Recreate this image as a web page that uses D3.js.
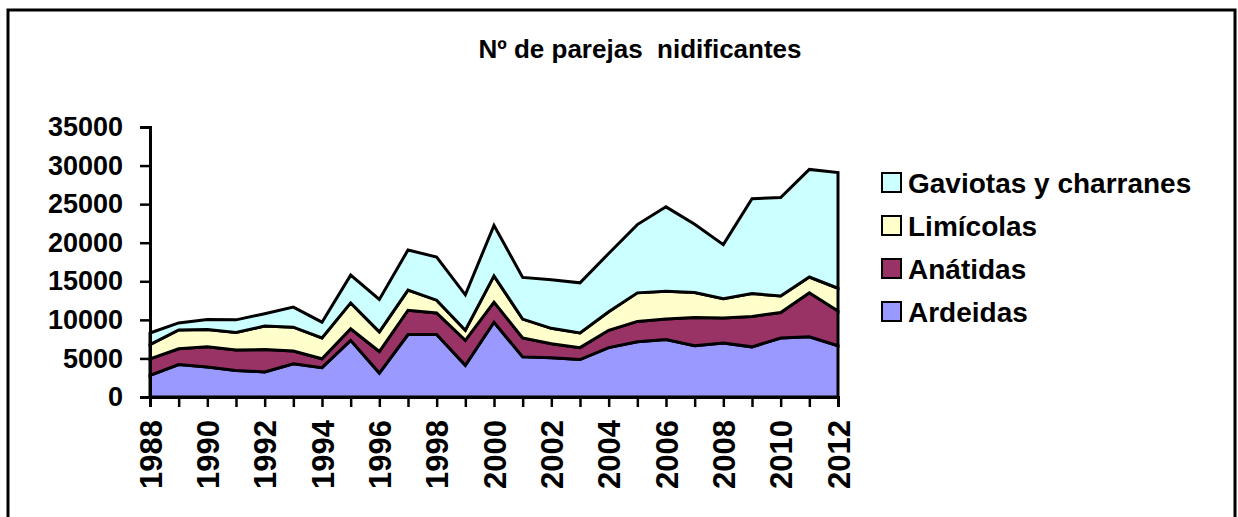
<!DOCTYPE html>
<html>
<head>
<meta charset="utf-8">
<script src="https://cdn.jsdelivr.net/npm/d3@7"></script>
<style>
  body { margin: 0; background: #fff; }
  svg text { font-family: "Liberation Sans", Arial, sans-serif; font-weight: bold; fill: #000; }
</style>
</head>
<body>
<div id="chart"></div>
<script>
// data
var years = [1988, 1989, 1990, 1991, 1992, 1993, 1994, 1995, 1996, 1997, 1998, 1999, 2000,
             2001, 2002, 2003, 2004, 2005, 2006, 2007, 2008, 2009, 2010, 2011, 2012];
var ardeidas = [2800, 4200, 3900, 3450, 3250, 4300, 3800, 7350, 3100, 8100, 8100, 4100, 9700,
                5200, 5100, 4850, 6400, 7150, 7450, 6650, 7000, 6500, 7650, 7800, 6650];
var anatidas = [2150, 2050, 2600, 2650, 2900, 1650, 1150, 1500, 2800, 3150, 2800, 3250, 2600,
                2450, 1800, 1550, 2250, 2650, 2650, 3650, 3250, 3950, 3300, 5700, 4500];
var limicolas = [1850, 2450, 2250, 2250, 3050, 3100, 2700, 3350, 2550, 2600, 1650, 1300, 3400,
                 2450, 2000, 1900, 2400, 3700, 3600, 3250, 2500, 2950, 2150, 2050, 2950];
var gaviotas = [1500, 900, 1300, 1650, 1600, 2600, 2050, 3600, 4200, 5200, 5600, 4600, 6550,
                5400, 6300, 6500, 7550, 8850, 10950, 8850, 7000, 12300, 12750, 13950, 15000];
var seriesNames = ["Ardeidas", "Anátidas", "Limícolas", "Gaviotas y charranes"];
var seriesColors = ["#9999ff", "#993366", "#ffffcc", "#ccffff"];
var yTicks = [0, 5000, 10000, 15000, 20000, 25000, 30000, 35000];

var rows = years.map(function (yr, i) {
    return { year: yr, "Ardeidas": ardeidas[i], "Anátidas": anatidas[i],
             "Limícolas": limicolas[i], "Gaviotas y charranes": gaviotas[i] };
});

var W = 1238, H = 517;
var margin = { left: 150, top: 127, right: 400, bottom: 120 };
var width = 838 - margin.left,
    height = 397 - margin.top;

var svg = d3.select("#chart").append("svg")
    .attr("width", W)
    .attr("height", H);

// outer frame (runs past the bottom edge)
svg.append("rect")
    .attr("x", 8).attr("y", 10)
    .attr("width", 1227).attr("height", 530)
    .attr("fill", "none")
    .attr("stroke", "#000")
    .attr("stroke-width", 3);

svg.append("text")
    .attr("x", 640).attr("y", 58)
    .attr("text-anchor", "middle")
    .style("font-size", "26px")
    .style("white-space", "pre")
    .text("Nº de parejas  nidificantes");

var g = svg.append("g")
    .attr("transform", "translate(" + margin.left + "," + margin.top + ")");

var x = d3.scaleLinear()
    .domain([years[0], years[years.length - 1]])
    .range([0, width]);

var y = d3.scaleLinear()
    .domain([0, 35000])
    .range([height, 0]);

var stack = d3.stack().keys(seriesNames);
var layers = stack(rows);

var area = d3.area()
    .x(function (d) { return x(d.data.year); })
    .y0(function (d) { return y(d[0]); })
    .y1(function (d) { return y(d[1]); });

g.selectAll(".layer")
    .data(layers)
    .enter()
    .append("path")
    .attr("class", "layer")
    .attr("d", area)
    .attr("fill", function (d, i) { return seriesColors[i]; })
    .attr("stroke", "#000")
    .attr("stroke-width", 3)
    .attr("stroke-linejoin", "miter");

// axes
var yAxis = d3.axisLeft(y)
    .tickValues(yTicks)
    .tickSize(10)
    .tickPadding(17)
    .tickFormat(d3.format("d"));

var gy = g.append("g").call(yAxis);
gy.select(".domain").attr("stroke-width", 3);
gy.selectAll(".tick line").attr("stroke-width", 2.5);
gy.selectAll("text").style("font-size", "27px");

var xAxis = d3.axisBottom(x)
    .tickValues(years)
    .tickSize(10)
    .tickFormat(function (d) { return (d % 2 === 0) ? String(d) : ""; });

var gx = g.append("g")
    .attr("transform", "translate(0," + height + ")")
    .call(xAxis);
gx.select(".domain").attr("stroke-width", 3);
gx.selectAll(".tick line").attr("stroke-width", 2.5);
gx.selectAll("text")
    .style("font-size", "31px")
    .attr("text-anchor", "end")
    .attr("transform", "rotate(-90)")
    .attr("x", -23)
    .attr("y", 0)
    .attr("dy", "0.36em");

// legend, top series first
var legend = svg.append("g")
    .attr("transform", "translate(882,173)");

var items = legend.selectAll(".item")
    .data(seriesNames.slice().reverse())
    .enter()
    .append("g")
    .attr("class", "item")
    .attr("transform", function (d, i) { return "translate(0," + (i * 43) + ")"; });

items.append("rect")
    .attr("width", 19).attr("height", 19)
    .attr("fill", function (d) { return seriesColors[seriesNames.indexOf(d)]; })
    .attr("stroke", "#000")
    .attr("stroke-width", 2);

items.append("text")
    .attr("x", 26).attr("y", 10)
    .attr("dy", "0.36em")
    .style("font-size", "28px")
    .text(function (d) { return d; });
</script>
</body>
</html>
